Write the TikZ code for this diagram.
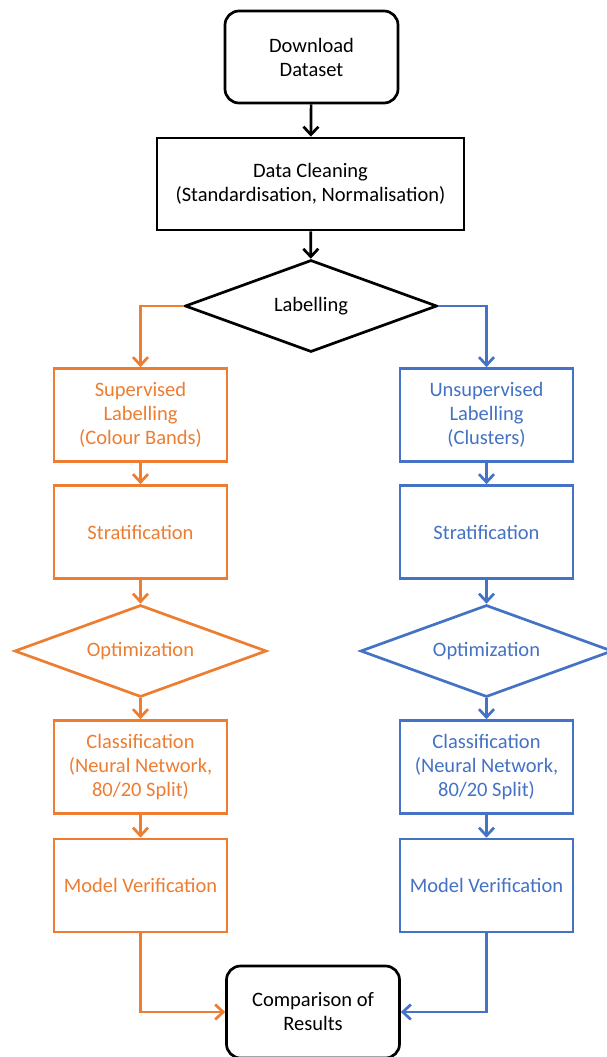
\documentclass[tikz,border=0pt]{standalone}
\usepackage{fontspec}
\setmainfont{Carlito}
\usetikzlibrary{shapes.geometric,arrows.meta}
\definecolor{orng}{HTML}{ED7D31}
\definecolor{blu}{HTML}{4472C4}
\tikzset{
  base/.style={font=\fontsize{20.5}{24}\selectfont, align=center, line width=2.7pt, fill=white, inner sep=2pt},
  rbox/.style={base, draw=black, rounded corners=14pt, minimum width=173pt, minimum height=92pt},
  sbox/.style={base, draw, rectangle, minimum width=173pt, minimum height=93pt},
  dmd/.style={base, draw, diamond, aspect=2.7, minimum width=252pt, minimum height=92pt},
  conn/.style={line width=2.7pt, -{Straight Barb[length=8pt,width=15pt,line width=2.7pt]}},
}
\begin{document}
\begin{tikzpicture}[x=1pt,y=-1pt]
\useasboundingbox (0,0) rectangle (606,1057);
% main column
\node[rbox] (dd) at (311.5,57) {Download\\Dataset};
\node[sbox, draw=black, minimum width=307pt, minimum height=92pt] (dc) at (310.5,184) {Data Cleaning\\(Standardisation, Normalisation)};
\node[dmd, draw=black] (lab) at (311,306) {Labelling};
% orange column
\node[sbox, draw=orng, text=orng] (sup) at (140.5,415) {Supervised\\Labelling\\(Colour Bands)};
\node[sbox, draw=orng, text=orng] (st1) at (140.5,532) {Stratification};
\node[dmd, draw=orng, text=orng] (op1) at (140.5,651) {Optimization};
\node[sbox, draw=orng, text=orng] (cl1) at (140.5,767) {Classification\\(Neural Network,\\80/20 Split)};
\node[sbox, draw=orng, text=orng] (mv1) at (140.5,885.5) {Model Verification};
% blue column
\node[sbox, draw=blu, text=blu] (uns) at (486.5,415) {Unsupervised\\Labelling\\(Clusters)};
\node[sbox, draw=blu, text=blu] (st2) at (486.5,532) {Stratification};
\node[dmd, draw=blu, text=blu] (op2) at (486.5,651) {Optimization};
\node[sbox, draw=blu, text=blu] (cl2) at (486.5,767) {Classification\\(Neural Network,\\80/20 Split)};
\node[sbox, draw=blu, text=blu] (mv2) at (486.5,885.5) {Model Verification};
% result
\node[rbox] (cmp) at (313,1012) {Comparison of\\Results};
% connectors
\draw[conn] (dd) -- (dc);
\draw[conn] (dc) -- (lab);
\draw[conn, orng] (lab.west) -| (sup.north);
\draw[conn, blu] (lab.east) -| (uns.north);
\draw[conn, orng] (sup) -- (st1);
\draw[conn, orng] (st1) -- (op1);
\draw[conn, orng] (op1) -- (cl1);
\draw[conn, orng] (cl1) -- (mv1);
\draw[conn, orng] (mv1.south) |- (cmp.west);
\draw[conn, blu] (uns) -- (st2);
\draw[conn, blu] (st2) -- (op2);
\draw[conn, blu] (op2) -- (cl2);
\draw[conn, blu] (cl2) -- (mv2);
\draw[conn, blu] (mv2.south) |- (cmp.east);
\end{tikzpicture}
\end{document}
